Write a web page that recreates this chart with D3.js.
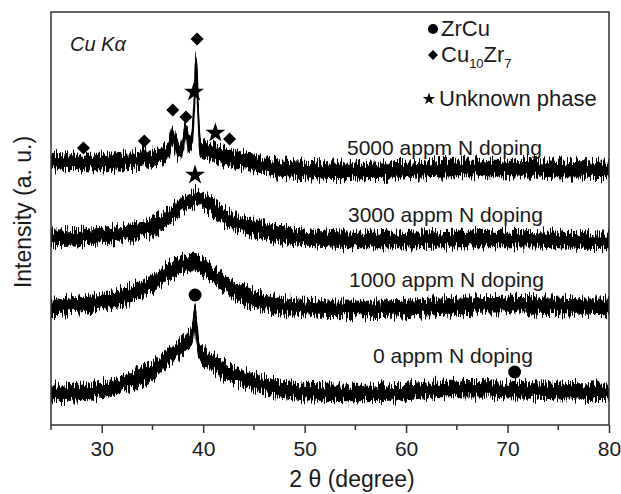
<!DOCTYPE html>
<html>
<head>
<meta charset="utf-8">
<script src="https://cdn.jsdelivr.net/npm/d3@7/dist/d3.min.js"></script>
<style>
  body { margin: 0; background: #fff; }
  text { font-family: Arial, "Liberation Sans", sans-serif; fill: #1a1a1a; }
</style>
</head>
<body>
<div id="vis"></div>
<script>
// XRD patterns (2theta in degree, intensity in a.u. incl. stacking offset)
let twoTheta0 = [25, 28, 30, 32, 34, 35, 36, 37, 38, 38.5, 38.9, 39.05, 39.2, 39.35, 39.5, 39.7, 40, 41, 42, 43, 45, 47, 50, 55, 60, 63, 65, 70, 75, 80];
let int0 = [32, 33, 35, 41, 49, 54, 63, 71, 79, 84, 90, 100, 112, 95, 80, 72, 70, 62, 55, 50, 43, 37, 33, 32, 33, 36, 36, 35, 34, 33];

let twoTheta1000 = [25, 28, 30, 32, 34, 35, 36, 37, 38, 39, 40, 41, 42, 43, 45, 47, 50, 55, 60, 65, 70, 75, 80];
let int1000 = [118, 120, 123, 128, 136, 141, 149, 156, 161, 163, 159, 150, 142, 135, 126, 120, 117, 116, 117, 119, 120, 119, 118];

let twoTheta3000 = [25, 28, 30, 32, 34, 35, 36, 37, 38, 39, 39.3, 40, 41, 42, 43, 45, 47, 50, 55, 60, 65, 70, 75, 80];
let int3000 = [187, 188, 189, 191, 195, 198, 204, 212, 220, 226, 229, 224, 217, 209, 204, 197, 192, 188, 185, 185, 186, 186, 185, 184];

let twoTheta5000 = [25, 28, 30, 32, 33.8, 34.2, 34.6, 35, 36, 36.6, 37.0, 37.3, 37.6, 38.0, 38.3, 38.6, 38.9, 39.1, 39.3, 39.5, 39.7, 40, 41, 42, 43, 45, 47, 50, 55, 60, 65, 70, 75, 80];
let int5000 = [264, 263, 263, 264, 265, 271, 265, 266, 269, 275, 291, 280, 273, 280, 294, 282, 287, 315, 363, 315, 278, 275, 272, 269, 266, 262, 257, 255, 254, 255, 257, 257, 256, 255];

let noiseHalf = 7.5; // half-height of the noise band, a.u.

let sampleNames = ['0 appm N doping', '1000 appm N doping', '3000 appm N doping', '5000 appm N doping'];

// phase markers: [phase, 2theta, intensity]
let markers = [
    ['ZrCu', 39.2, 130], ['ZrCu', 70.7, 53],
    ['Cu10Zr7', 28.2, 277], ['Cu10Zr7', 34.2, 284], ['Cu10Zr7', 37.0, 315],
    ['Cu10Zr7', 38.3, 308], ['Cu10Zr7', 39.4, 386], ['Cu10Zr7', 42.6, 286],
    ['Unknown', 39.1, 333], ['Unknown', 41.2, 292], ['Unknown', 39.2, 250]
];

let xTicks = [30, 40, 50, 60, 70, 80];
let xMinor = [25, 35, 45, 55, 65, 75];

let W = 621, H = 494;
let margin = { top: 12, left: 51, right: 12, bottom: 69 };

let svg = d3.select('#vis')
    .append('svg')
    .attr('width', W)
    .attr('height', H)
    .style('background-color', '#fff');

let x = d3.scaleLinear().domain([25, 80]).range([margin.left, W - margin.right]);
let y = d3.scaleLinear().domain([0, 413]).range([H - margin.bottom, margin.top]);

// noise look: vertical jitter of the bands
let defs = svg.append('defs');
defs.append('clipPath').attr('id', 'plotclip')
    .append('rect')
    .attr('x', x(25)).attr('y', y(413))
    .attr('width', x(80) - x(25)).attr('height', y(0) - y(413));
let filt = defs.append('filter').attr('id', 'noisy')
    .attr('x', '-2%').attr('y', '-20%').attr('width', '104%').attr('height', '140%');
filt.append('feTurbulence')
    .attr('type', 'fractalNoise')
    .attr('baseFrequency', '0.9 0.04')
    .attr('numOctaves', 2)
    .attr('seed', 3)
    .attr('result', 'turb');
filt.append('feColorMatrix')
    .attr('in', 'turb')
    .attr('type', 'matrix')
    .attr('values', '0 0 0 0 0.5  0 2.2 0 0 -0.6  0 0 0 0 0  0 0 0 0 1')
    .attr('result', 'disp');
filt.append('feDisplacementMap')
    .attr('in', 'SourceGraphic')
    .attr('in2', 'disp')
    .attr('scale', 10)
    .attr('xChannelSelector', 'R')
    .attr('yChannelSelector', 'G');

let series = [
    { xs: twoTheta0, ys: int0 },
    { xs: twoTheta1000, ys: int1000 },
    { xs: twoTheta3000, ys: int3000 },
    { xs: twoTheta5000, ys: int5000 }
];

let band = d3.area()
    .x(d => x(d[0]))
    .y0(d => y(d[1] - noiseHalf))
    .y1(d => y(d[1] + noiseHalf))
    .curve(d3.curveMonotoneX);

let traces = svg.append('g').attr('clip-path', 'url(#plotclip)')
    .append('g').attr('filter', 'url(#noisy)');
series.forEach(function(s) {
    let pts = s.xs.map((t, i) => [t, s.ys[i]]);
    traces.append('path')
        .datum(pts)
        .attr('fill', '#000')
        .attr('stroke', '#000')
        .attr('stroke-width', 1.5)
        .attr('d', band);
});

// frame
svg.append('rect')
    .attr('x', x(25)).attr('y', y(413))
    .attr('width', x(80) - x(25)).attr('height', y(0) - y(413))
    .attr('fill', 'none').attr('stroke', '#333').attr('stroke-width', 1.5);

// x axis
let xAxis = d3.axisBottom(x).tickValues(xTicks).tickSize(8).tickPadding(8).tickFormat(d3.format('d'));
let gx = svg.append('g')
    .attr('transform', 'translate(0,' + y(0) + ')')
    .call(xAxis);
gx.select('.domain').remove();
gx.selectAll('line').attr('stroke', '#333').attr('stroke-width', 1.5);
gx.selectAll('text').attr('font-size', 21).attr('fill', '#1a1a1a')
    .attr('font-family', 'Arial, "Liberation Sans", sans-serif');
svg.append('g')
    .attr('transform', 'translate(0,' + y(0) + ')')
    .selectAll('line').data(xMinor).enter().append('line')
    .attr('x1', d => x(d)).attr('x2', d => x(d))
    .attr('y1', 0).attr('y2', 5)
    .attr('stroke', '#333').attr('stroke-width', 1.5);

// axis titles
svg.append('text')
    .attr('x', 352).attr('y', 487)
    .attr('text-anchor', 'middle')
    .attr('font-size', 23)
    .text('2 θ (degree)');
svg.append('text')
    .attr('transform', 'translate(31,212) rotate(-90)')
    .attr('text-anchor', 'middle')
    .attr('font-size', 23)
    .text('Intensity (a. u.)');

// markers
let symType = { 'ZrCu': d3.symbolCircle, 'Cu10Zr7': d3.symbolSquare, 'Unknown': d3.symbolStar };
let symSize = { 'ZrCu': 130, 'Cu10Zr7': 85, 'Unknown': 124 };
svg.append('g').selectAll('path')
    .data(markers).enter().append('path')
    .attr('transform', d => 'translate(' + x(d[1]) + ',' + y(d[2]) + ')' + (d[0] === 'Cu10Zr7' ? ' rotate(45)' : ''))
    .attr('d', d => d3.symbol().type(symType[d[0]]).size(symSize[d[0]])())
    .attr('fill', '#000');

// sample labels
let labelPos = [[373, 363], [349, 287], [348, 222], [347, 155]];
svg.append('g').selectAll('text')
    .data(sampleNames).enter().append('text')
    .attr('x', (d, i) => labelPos[i][0])
    .attr('y', (d, i) => labelPos[i][1])
    .attr('font-size', 21)
    .text(d => d);

// Cu K alpha
svg.append('text')
    .attr('x', 70).attr('y', 51)
    .attr('font-size', 20)
    .attr('font-style', 'italic')
    .text('Cu Kα');

// legend
let legendRows = [
    { key: 'ZrCu', x: 433, y: 29, size: 80 },
    { key: 'Cu10Zr7', x: 433, y: 55, size: 50 },
    { key: 'Unknown', x: 429, y: 99, size: 48 }
];
let legend = svg.append('g');
legend.selectAll('path').data(legendRows).enter().append('path')
    .attr('transform', d => 'translate(' + d.x + ',' + d.y + ')' + (d.key === 'Cu10Zr7' ? ' rotate(45)' : ''))
    .attr('d', d => d3.symbol().type(symType[d.key]).size(d.size)())
    .attr('fill', '#000');
legend.append('text').attr('x', 441).attr('y', 36).attr('font-size', 22).text('ZrCu');
let cuText = legend.append('text').attr('x', 441).attr('y', 62).attr('font-size', 22);
cuText.append('tspan').text('Cu');
cuText.append('tspan').attr('font-size', 13).attr('dy', 6).text('10');
cuText.append('tspan').attr('dy', -6).text('Zr');
cuText.append('tspan').attr('font-size', 13).attr('dy', 6).text('7');
legend.append('text').attr('x', 439).attr('y', 106).attr('font-size', 22).text('Unknown phase');
</script>
</body>
</html>
